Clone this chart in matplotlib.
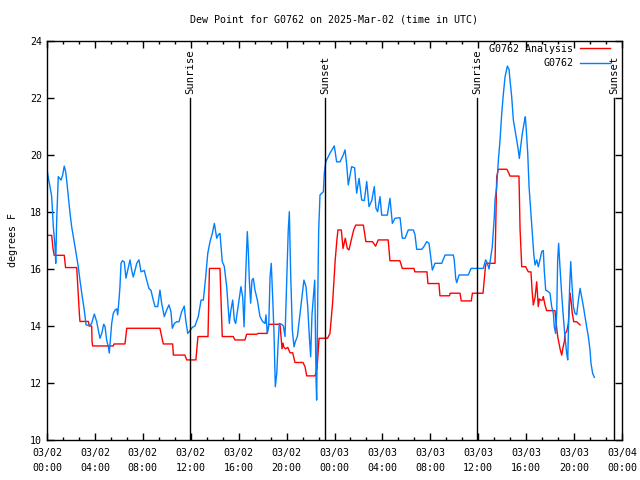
import matplotlib
matplotlib.use('Agg')
import matplotlib.pyplot as plt
from matplotlib.ticker import MultipleLocator

# hours since 2025-03-02 00:00 UTC
obs_hours = [
    0.00, 0.11, 0.25, 0.39, 0.53, 0.67, 0.73, 0.81, 0.89, 0.94, 1.17, 1.31, 1.44, 1.56, 1.64,
    1.78, 1.92, 2.06, 2.34, 2.61, 2.75, 2.90, 3.11, 3.26, 3.59, 3.73, 3.95, 4.15, 4.28, 4.42,
    4.57, 4.73, 4.84, 4.98, 5.12, 5.20, 5.40, 5.53, 5.68, 5.82, 5.90, 6.01, 6.09, 6.18, 6.29,
    6.45, 6.59, 6.74, 6.93, 7.07, 7.20, 7.35, 7.49, 7.68, 7.85, 8.12, 8.32, 8.51, 8.68, 8.87,
    9.02, 9.24, 9.43, 9.57, 9.79, 9.99, 10.18, 10.35, 10.46, 10.63, 10.83, 11.02, 11.24, 11.46,
    11.58, 11.75, 11.94, 12.13, 12.35, 12.63, 12.86, 13.05, 13.25, 13.42, 13.61, 13.80, 13.97,
    14.17, 14.30, 14.44, 14.63, 14.80, 15.00, 15.22, 15.33, 15.50, 15.64, 15.75, 15.97, 16.19,
    16.34, 16.45, 16.59, 16.72, 16.81, 16.89, 17.00, 17.11, 17.22, 17.36, 17.56, 17.78, 18.01,
    18.20, 18.28, 18.39, 18.51, 18.62, 18.72, 18.84, 18.95, 19.06, 19.18, 19.28, 19.39, 19.59,
    19.73, 19.87, 20.01, 20.14, 20.23, 20.34, 20.48, 20.62, 20.73, 20.90, 21.12, 21.35, 21.45,
    21.62, 21.76, 21.90, 22.01, 22.12, 22.23, 22.35, 22.46, 22.51, 22.60, 22.68, 22.79, 23.07,
    23.15, 23.27, 23.62, 23.98, 24.18, 24.46, 24.73, 24.88, 25.02, 25.15, 25.43, 25.68, 25.85,
    26.05, 26.27, 26.49, 26.69, 26.88, 27.11, 27.32, 27.46, 27.60, 27.80, 27.94, 28.22, 28.41,
    28.63, 28.83, 29.05, 29.47, 29.66, 29.89, 30.16, 30.58, 30.72, 30.86, 31.28, 31.47, 31.70,
    31.89, 32.06, 32.17, 32.39, 32.95, 33.23, 33.92, 34.00, 34.12, 34.20, 34.40, 35.17, 35.40,
    36.42, 36.62, 36.76, 36.90, 37.04, 37.17, 37.34, 37.40, 37.54, 37.68, 37.82, 37.96, 38.10,
    38.24, 38.43, 38.57, 38.65, 38.79, 38.93, 39.07, 39.21, 39.34, 39.43, 39.54, 39.68, 39.85,
    39.93, 40.01, 40.13, 40.24, 40.40, 40.51, 40.63, 40.74, 40.88, 41.01, 41.15, 41.30, 41.43,
    41.51, 41.63, 41.80, 41.99, 42.13, 42.27, 42.35, 42.46, 42.55, 42.63, 42.71, 42.82, 42.96,
    43.10, 43.24, 43.38, 43.47, 43.52, 43.63, 43.72, 43.80, 43.94, 44.08, 44.22, 44.36, 44.50,
    44.64, 44.78, 44.91, 45.05, 45.19, 45.33, 45.41, 45.55, 45.69,
]
obs_dewpt = [
    19.50, 19.19, 18.89, 18.54, 17.48, 16.78, 16.20, 17.72, 18.67, 19.24, 19.12, 19.30, 19.61, 19.41, 19.12,
    18.54, 17.96, 17.48, 16.78, 16.08, 15.61, 15.15, 14.56, 14.04, 14.01, 14.10, 14.42, 14.15, 13.86, 13.57,
    13.74, 14.06, 13.99, 13.51, 13.27, 13.05, 14.09, 14.44, 14.56, 14.60, 14.39, 14.91, 15.38, 16.20, 16.29,
    16.25, 15.68, 15.96, 16.32, 15.96, 15.72, 15.96, 16.20, 16.32, 15.90, 15.95, 15.61, 15.32, 15.25, 14.91,
    14.68, 14.68, 15.26, 14.80, 14.33, 14.56, 14.74, 14.50, 13.92, 14.09, 14.15, 14.15, 14.50, 14.70,
    14.21, 13.74, 13.84, 13.95, 14.00, 14.33, 14.91, 14.91, 15.73, 16.55, 16.96, 17.25, 17.60,
    17.08, 17.20, 17.25, 16.26, 16.09, 15.38, 14.09, 14.50, 14.91, 14.20, 14.09, 14.74, 15.38,
    15.00, 13.97, 15.85, 17.31, 16.60, 15.61, 14.80, 15.61, 15.67, 15.26, 14.91, 14.33, 14.15,
    14.09, 14.39, 13.74, 14.00, 15.73, 16.20, 15.00, 13.74, 11.87, 12.33, 13.27, 14.09, 14.06,
    14.00, 13.63, 15.61, 17.37, 18.01, 15.85, 13.86, 13.27, 13.45, 13.63, 14.44, 15.26, 15.61,
    15.38, 14.70, 13.63, 12.92, 14.40, 15.00, 15.61, 12.11, 11.40, 14.91, 17.37, 18.60, 18.71,
    19.36, 19.76, 20.06, 20.32, 19.76, 19.76, 20.00, 20.18, 19.65, 18.95, 19.59, 19.55, 18.66,
    19.18, 18.42, 18.40, 19.07, 18.19, 18.40, 18.89, 18.13, 18.01, 18.54, 17.89, 17.89, 17.89,
    18.48, 17.60, 17.78, 17.80, 17.08, 17.08, 17.37, 17.37, 17.20, 16.69, 16.69, 16.79, 16.96,
    16.90, 16.32, 15.96, 16.20, 16.20, 16.49, 16.49, 16.30, 15.67, 15.52, 15.79, 15.79, 16.02,
    16.02, 16.32, 16.20, 16.00, 16.40, 16.78, 17.84, 18.42, 18.89, 19.82, 20.53, 21.46, 22.16,
    22.75, 23.12, 23.00, 22.63, 22.05, 21.23, 20.88, 20.53, 20.18, 19.88, 20.29, 20.76, 21.17,
    21.34, 20.88, 20.06, 18.89, 17.95, 17.25, 16.55, 16.14, 16.32, 16.08, 16.32, 16.61, 16.65,
    15.96, 15.26, 15.22, 15.15, 14.68, 14.44, 13.97, 13.74, 14.44, 16.32, 16.90, 16.08, 15.15,
    14.33, 13.63, 13.04, 12.81, 13.74, 15.38, 16.26, 15.61, 14.68, 14.44, 14.40, 14.91, 15.32,
    15.00, 14.68, 14.33, 13.97, 13.63, 13.16, 12.69, 12.34, 12.20,
]

anl_hours = [
    0.00, 0.39, 0.50, 0.60, 1.44, 1.55, 2.48, 2.61, 2.70, 2.75, 3.45, 3.53, 3.73, 3.76, 3.81,
    5.53, 5.60, 6.51, 6.66, 9.43, 9.57, 9.71, 10.49, 10.55, 11.51, 11.66, 12.43, 12.60, 13.44,
    13.56, 14.44, 14.63, 15.55, 15.69, 16.52, 16.67, 17.50, 17.62, 18.36, 18.52, 19.45, 19.62,
    19.70, 19.78, 19.92, 20.10, 20.29, 20.51, 20.70, 21.37, 21.54, 21.68, 22.37, 22.54, 22.71,
    23.42, 23.62, 23.84, 24.06, 24.20, 24.29, 24.57, 24.71, 24.90, 25.07, 25.21, 25.40, 25.60,
    25.77, 26.41, 26.62, 27.17, 27.43, 27.65, 28.48, 28.63, 29.46, 29.66, 30.64, 30.70, 31.72,
    31.80, 32.72, 32.80, 33.60, 33.65, 34.48, 34.58, 35.42, 35.51, 36.40, 36.60, 36.66, 37.40,
    37.54, 37.68, 38.38, 38.51, 38.65, 39.40, 39.49, 39.63, 39.96, 40.05, 40.18, 40.40, 40.46,
    40.51, 40.60, 40.68, 40.74, 40.88, 40.96, 41.01, 41.10, 41.24, 41.38, 41.43, 41.57, 41.71,
    42.41, 42.46, 42.63, 42.74, 42.85, 42.97, 43.10, 43.19, 43.24, 43.38, 43.52, 43.66, 43.74,
    43.85, 43.97, 44.22, 44.36, 44.50,
]
anl_dewpt = [
    17.18, 17.18, 16.72, 16.48, 16.48, 16.05, 16.05, 15.09, 14.45, 14.16, 14.16, 14.00, 14.00, 13.45, 13.30,
    13.30, 13.37, 13.37, 13.92, 13.92, 13.63, 13.37, 13.37, 12.98, 12.98, 12.81, 12.81, 13.63, 13.63,
    16.02, 16.02, 13.63, 13.63, 13.51, 13.51, 13.71, 13.71, 13.74, 13.74, 14.06, 14.06, 13.20,
    13.40, 13.25, 13.20, 13.25, 13.06, 13.06, 12.72, 12.72, 12.57, 12.25, 12.25, 12.50, 13.57,
    13.57, 13.74, 14.80, 16.32, 17.02, 17.37, 17.37, 16.72, 17.08, 16.72, 16.67, 17.02, 17.37,
    17.54, 17.54, 16.96, 16.96, 16.80, 17.02, 17.02, 16.29, 16.29, 16.02, 16.02, 15.90, 15.90,
    15.49, 15.49, 15.06, 15.06, 15.15, 15.15, 14.88, 14.88, 15.15, 15.15, 16.08, 16.20, 16.20,
    19.24, 19.50, 19.50, 19.40, 19.26, 19.26, 17.40, 16.08, 16.08, 16.00, 15.90, 15.90, 15.50,
    15.15, 14.74, 14.90, 15.00, 15.55, 15.00, 14.68, 14.95, 14.90, 14.92, 15.03, 14.74, 14.54,
    14.54, 14.27, 13.63, 13.40, 13.16, 12.98, 13.30, 13.45, 13.74, 13.80, 14.09, 15.15, 14.91,
    14.44, 14.15, 14.15, 14.09, 14.04,
]

sun_hours = [11.94, 23.21, 35.90, 47.34]
sun_labels = ['Sunrise', 'Sunset', 'Sunrise', 'Sunset']

tick_hours = list(range(0, 49, 4))
tick_labels = ['03/02\n00:00', '03/02\n04:00', '03/02\n08:00', '03/02\n12:00', '03/02\n16:00',
               '03/02\n20:00', '03/03\n00:00', '03/03\n04:00', '03/03\n08:00', '03/03\n12:00',
               '03/03\n16:00', '03/03\n20:00', '03/04\n00:00']

plt.rcParams['font.family'] = 'DejaVu Sans Mono'
plt.rcParams['font.size'] = 7.2

fig = plt.figure(figsize=(6.4, 4.8), dpi=100)
ax = fig.add_axes([47 / 640, 1 - 440 / 480, 575 / 640, 399 / 480])

ax.plot(anl_hours, anl_dewpt, color='#ff0000', lw=1.0, label='G0762 Analysis')
ax.plot(obs_hours, obs_dewpt, color='#0080ff', lw=1.0, label='G0762')

for h, lab in zip(sun_hours, sun_labels):
    ax.plot([h, h], [10, 22.0], color='black', lw=1.0)
    ax.text(h, 22.15, lab, rotation=90, ha='center', va='bottom', fontsize=7.6)

ax.set_xlim(0, 48)
ax.set_ylim(10, 24)
ax.set_xticks(tick_hours)
ax.set_xticklabels(tick_labels, linespacing=1.6)
ax.xaxis.set_minor_locator(MultipleLocator(4 / 3))
ax.yaxis.set_major_locator(MultipleLocator(2))
ax.tick_params(which='both', direction='in', top=True, right=True, width=1.0)
ax.tick_params(which='major', length=5)
ax.tick_params(axis='x', which='major', pad=6)
ax.tick_params(which='minor', length=2.5)
for s in ax.spines.values():
    s.set_linewidth(1.0)

ax.set_ylabel('degrees F', labelpad=9)
ax.set_title('Dew Point for G0762 on 2025-Mar-02 (time in UTC)', fontsize=7.2, pad=13)

ax.legend(loc='upper right', frameon=False, markerfirst=False, handlelength=3.0,
          handletextpad=0.7, borderpad=0, borderaxespad=0, labelspacing=0.45,
          bbox_to_anchor=(1 - 12 / 575, 1 - 3 / 399))

fig.savefig('out.png', dpi=100)
